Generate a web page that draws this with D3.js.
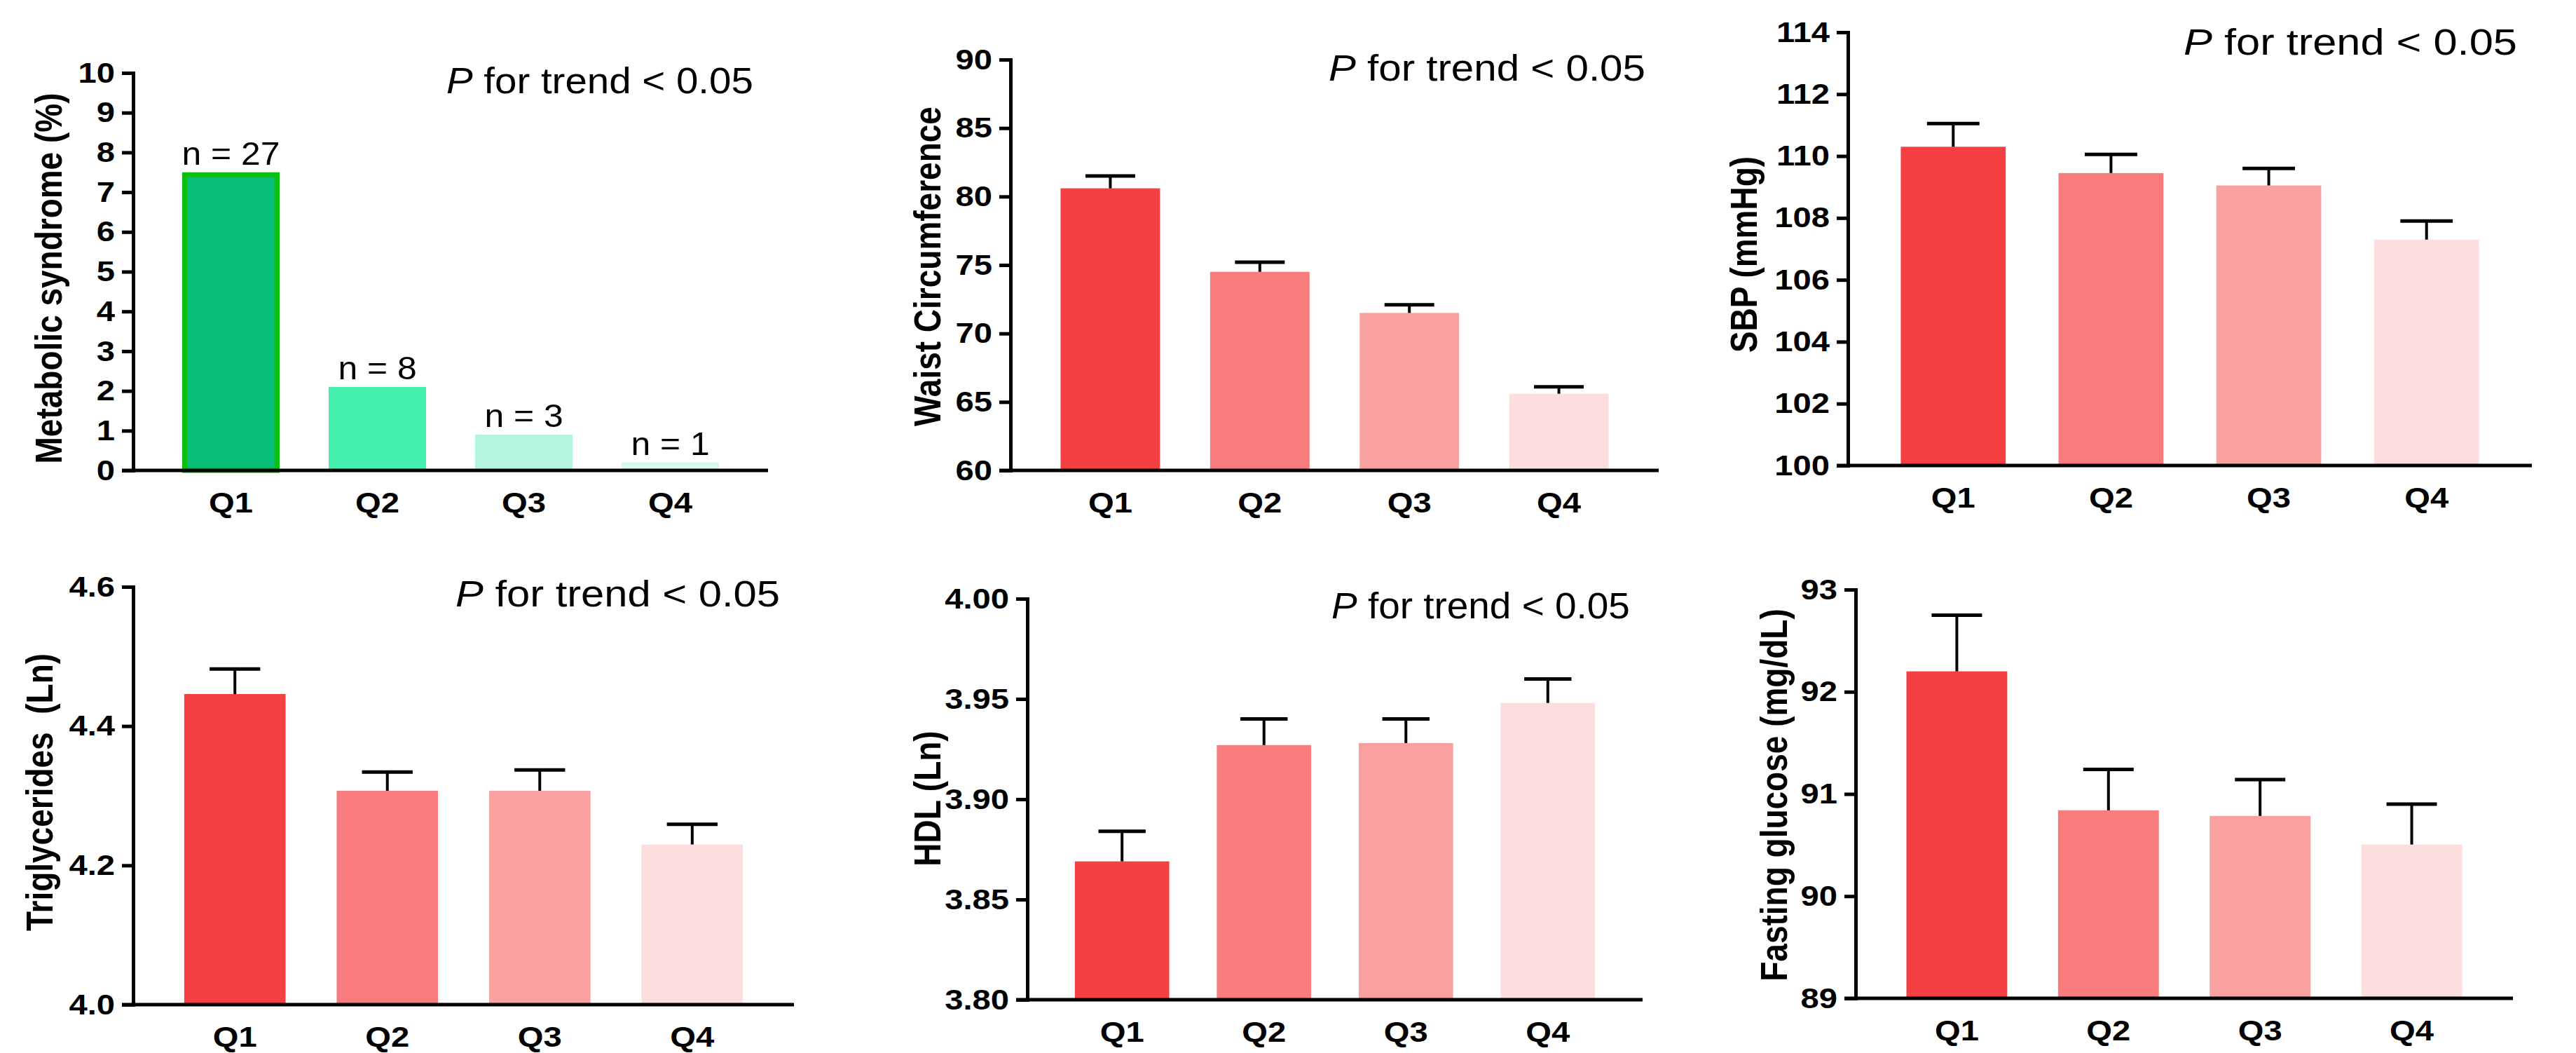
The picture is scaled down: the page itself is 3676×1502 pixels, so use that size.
<!DOCTYPE html>
<html>
<head>
<meta charset="utf-8">
<script src="https://cdn.jsdelivr.net/npm/d3@7/dist/d3.min.js"></script>
<style>
  body { margin: 0; background: #fff; }
  text { font-family: "Liberation Sans", Arial, Helvetica, sans-serif; fill: #000; }
</style>
</head>
<body>
<div id="chart"></div>
<script>
const quartiles = ['Q1', 'Q2', 'Q3', 'Q4']

// metabolic syndrome prevalence (%) and counts
const metsPct = [7.5, 2.1, 0.9, 0.2]
const metsN = ['n = 27', 'n = 8', 'n = 3', 'n = 1']

// means and upper error (mean + SE)
const waistMean = [80.6, 74.5, 71.5, 65.6]
const waistUpper = [81.5, 75.2, 72.1, 66.1]

const sbpMean = [110.3, 109.45, 109.05, 107.3]
const sbpUpper = [111.05, 110.05, 109.6, 107.9]

const tgMean = [4.446, 4.307, 4.307, 4.23]
const tgUpper = [4.482, 4.334, 4.337, 4.259]

const hdlMean = [3.869, 3.927, 3.928, 3.948]
const hdlUpper = [3.884, 3.94, 3.94, 3.96]

const glucoseMean = [92.2, 90.84, 90.785, 90.505]
const glucoseUpper = [92.75, 91.24, 91.14, 90.9]

// tick values
const metsTicks = [0, 1, 2, 3, 4, 5, 6, 7, 8, 9, 10]
const waistTicks = [60, 65, 70, 75, 80, 85, 90]
const sbpTicks = [100, 102, 104, 106, 108, 110, 112, 114]
const tgTicks = [4.0, 4.2, 4.4, 4.6]
const hdlTicks = [3.80, 3.85, 3.90, 3.95, 4.00]
const glucoseTicks = [89, 90, 91, 92, 93]

const trendText = ' for trend < 0.05'

const greens = ['#07be78', '#45f0ae', '#b4f5de', '#d8f8ec']
const greenEdge = '#0abe14'
const reds = ['#f44043', '#f87c7d', '#f9a0a0', '#fcdede']

const W = 3676, H = 1502
const SX = 1.15   // the figure is a bit stretched sideways

const panels = [
  { title: 'Metabolic syndrome (%)', values: metsPct, upper: null, labels: metsN,
    ticks: metsTicks, fmt: d3.format('d'), colors: greens,
    xr: [190, 1096], yr: [671, 104], titleX: 88, titleY: 397, p: [637, 133, 438] },
  { title: 'Waist Circumference', values: waistMean, upper: waistUpper,
    ticks: waistTicks, fmt: d3.format('d'), colors: reds,
    xr: [1442, 2367], yr: [671, 85], titleX: 1342, titleY: 380, p: [1896, 115, 452] },
  { title: 'SBP (mmHg)', values: sbpMean, upper: sbpUpper,
    ticks: sbpTicks, fmt: d3.format('d'), colors: reds,
    xr: [2637, 3613], yr: [664, 46], titleX: 2507, titleY: 363, p: [3116, 78, 476] },
  { title: 'Triglycerides  (Ln)', values: tgMean, upper: tgUpper,
    ticks: tgTicks, fmt: d3.format('.1f'), colors: reds,
    xr: [190, 1133], yr: [1433, 837], titleX: 75, titleY: 1130, p: [650, 865, 463] },
  { title: 'HDL (Ln)', values: hdlMean, upper: hdlUpper,
    ticks: hdlTicks, fmt: d3.format('.2f'), colors: reds,
    xr: [1466, 2344], yr: [1426, 854], titleX: 1342, titleY: 1139, p: [1900, 882, 426] },
  { title: 'Fasting glucose (mg/dL)', values: glucoseMean, upper: glucoseUpper,
    ticks: glucoseTicks, fmt: d3.format('d'), colors: reds,
    xr: [2648, 3586], yr: [1424, 841], titleX: 2550, titleY: 1134, p: null }
]

const svg = d3.select('#chart').append('svg')
  .attr('width', W)
  .attr('height', H)
  .style('background', '#fff')

panels.forEach(p => {
  const g = svg.append('g')

  const x = d3.scaleBand()
    .domain(quartiles)
    .range(p.xr)
    .paddingInner(0.335)
    .paddingOuter(0.335)

  const y = d3.scaleLinear()
    .domain([p.ticks[0], p.ticks[p.ticks.length - 1]])
    .range(p.yr)

  const rows = quartiles.map((q, i) => ({ q: q, v: p.values[i], up: p.upper ? p.upper[i] : null, i: i }))
  const bw = x.bandwidth()
  const base = y(p.ticks[0])

  // bars
  if (p.colors === greens) {
    // first bar has a green outline
    g.selectAll('.bar')
      .data(rows)
      .enter().append('rect')
        .attr('class', 'bar')
        .attr('x', d => x(d.q) + (d.i === 0 ? 3.5 : 0))
        .attr('width', d => bw - (d.i === 0 ? 7 : 0))
        .attr('y', d => y(d.v) + (d.i === 0 ? 3.5 : 0))
        .attr('height', d => base - y(d.v) - (d.i === 0 ? 3.5 : 0))
        .attr('fill', d => p.colors[d.i])
        .attr('stroke', d => d.i === 0 ? greenEdge : 'none')
        .attr('stroke-width', 7)
  } else {
    g.selectAll('.bar')
      .data(rows)
      .enter().append('rect')
        .attr('class', 'bar')
        .attr('x', d => x(d.q))
        .attr('width', bw)
        .attr('y', d => y(d.v))
        .attr('height', d => base - y(d.v))
        .attr('fill', d => p.colors[d.i])
  }

  // error bars (upper only)
  if (p.upper) {
    g.selectAll('.err')
      .data(rows)
      .enter().append('line')
        .attr('class', 'err')
        .attr('x1', d => x(d.q) + bw / 2)
        .attr('x2', d => x(d.q) + bw / 2)
        .attr('y1', d => y(d.v))
        .attr('y2', d => y(d.up))
        .attr('stroke', '#000')
        .attr('stroke-width', 4)
    g.selectAll('.cap')
      .data(rows)
      .enter().append('line')
        .attr('class', 'cap')
        .attr('x1', d => x(d.q) + bw / 4)
        .attr('x2', d => x(d.q) + bw * 3 / 4)
        .attr('y1', d => y(d.up))
        .attr('y2', d => y(d.up))
        .attr('stroke', '#000')
        .attr('stroke-width', 5)
  }

  // n labels above bars
  if (p.labels) {
    g.selectAll('.nlab')
      .data(rows)
      .enter().append('text')
        .attr('class', 'nlab')
        .attr('text-anchor', 'middle')
        .style('font-size', '47px')
        .attr('transform', d => `translate(${x(d.q) + bw / 2},${y(d.v) - 11}) scale(1.06,1)`)
        .text(d => p.labels[d.i])
  }

  // y axis
  const yAxis = g.append('g')
    .attr('transform', `translate(${p.xr[0]},0)`)
    .call(d3.axisLeft(y).tickValues(p.ticks).tickFormat(p.fmt)
      .tickSize(16).tickPadding(10).tickSizeOuter(0))
  yAxis.select('.domain').attr('stroke-width', 5).attr('stroke-linecap', 'square')
  yAxis.selectAll('.tick line').attr('stroke-width', 5)
  yAxis.selectAll('.tick text')
    .attr('x', 0)
    .attr('transform', `translate(-26,0) scale(${SX},1)`)
    .style('font-size', '41px')
    .style('font-weight', 'bold')
    .attr('fill', '#000')

  // x axis
  const xAxis = g.append('g')
    .attr('transform', `translate(0,${base})`)
    .call(d3.axisBottom(x).tickSize(0).tickPadding(32))
  xAxis.select('.domain').remove()
  xAxis.append('line')
    .attr('x1', p.xr[0] - 16)
    .attr('x2', p.xr[1])
    .attr('stroke', '#000')
    .attr('stroke-width', 5)
  xAxis.selectAll('.tick text')
    .attr('transform', 'scale(1.18,1)')
    .style('font-size', '40px')
    .style('font-weight', 'bold')
    .attr('fill', '#000')

  // y axis title
  g.append('text')
    .attr('text-anchor', 'middle')
    .attr('transform', `translate(${p.titleX},${p.titleY}) scale(${SX},1) rotate(-90)`)
    .style('font-size', '46px')
    .style('font-weight', 'bold')
    .style('white-space', 'pre')
    .text(p.title)

  // P for trend
  if (p.p) {
    const t = g.append('text')
      .style('font-size', '52px')
    t.append('tspan').style('font-style', 'italic').text('P')
    t.append('tspan').text(trendText)
    const natural = t.node().getComputedTextLength()
    t.attr('transform', `translate(${p.p[0]},${p.p[1]}) scale(${p.p[2] / natural},1)`)
  }
})
</script>
</body>
</html>
